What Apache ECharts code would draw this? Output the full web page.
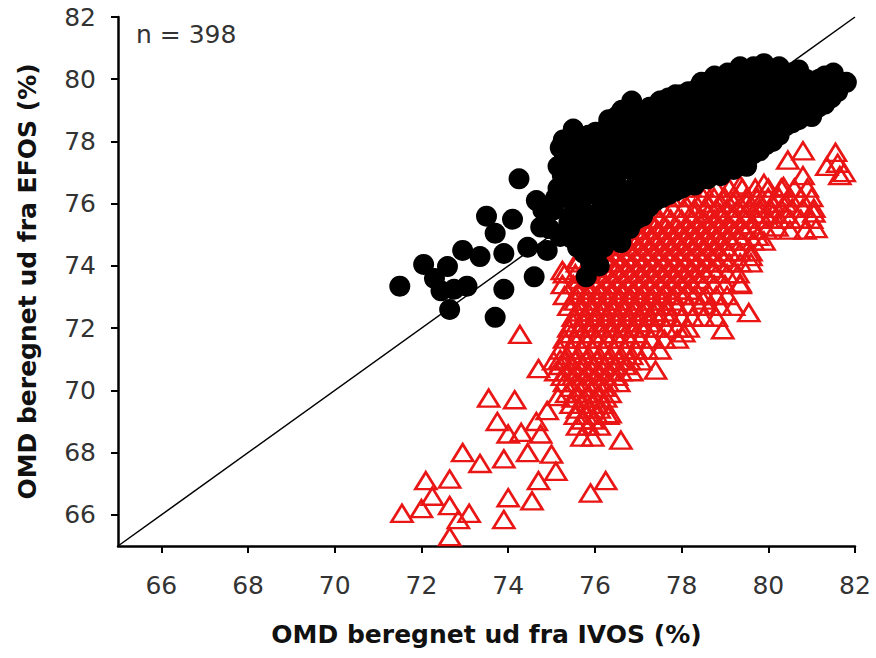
<!DOCTYPE html>
<html><head><meta charset="utf-8">
<script src="https://cdn.jsdelivr.net/npm/echarts@6.0.0/dist/echarts.min.js"></script>
<style>html,body{margin:0;padding:0;background:#fff}#c{width:876px;height:658px}</style>
</head><body><div id="c"></div>
<script>
const xTicks = [66, 68, 70, 72, 74, 76, 78, 80, 82];
const yTicks = [66, 68, 70, 72, 74, 76, 78, 80, 82];
const xTitle = 'OMD beregnet ud fra IVOS (%)';
const yTitle = 'OMD beregnet ud fra EFOS (%)';
const sampleLabel = 'n = 398';
const identityLine = [[65, 65], [82, 82]];

// black filled circles
const blackPoints = [
  [71.5,73.35],[72.05,74.05],[72.3,73.6],[72.45,73.2],[72.6,73.98],[72.95,74.5],[73.35,74.3],[72.75,73.25],[72.65,72.6],[73.05,73.35],
  [73.5,75.6],[73.7,75.05],[74.1,75.5],[73.9,74.4],[73.9,73.25],[73.7,72.35],[74.25,76.8],[74.65,76.1],[74.45,74.6],[74.6,73.65],
  [74.9,74.5],[74.75,75.25],[75.05,75.8],[75.2,74.95],[75.8,73.65],[76.1,74.0],[75.65,75.05],[76.05,74.75],[76.6,74.75],[75.35,76.65],[75.65,77.4],
  [74.95,75.2],[75.1,76.2],[74.8,75.8],[75.4,75.4],[75.15,76.5],[75.15,77.2],[75.2,77.8],
  [75.3,76.2],[75.25,76.9],[75.3,77.5],[75.27,78.05],
  [75.6,74.6],[75.55,75.3],[75.6,75.9],[75.62,76.5],[75.58,77.2],[75.6,77.8],[75.5,78.4],
  [75.9,74.1],[75.92,74.8],[75.88,75.6],[75.9,76.3],[75.95,76.9],[75.9,77.6],[75.85,78.2],
  [76.2,74.6],[76.22,75.3],[76.18,75.9],[76.2,76.6],[76.25,77.3],[76.2,77.9],[76.3,78.5],
  [76.5,75.4],[76.52,76.0],[76.48,76.8],[76.5,77.4],[76.55,78.1],[76.5,78.8],
  [76.8,75.2],[76.82,75.8],[76.78,76.4],[76.8,77.1],[76.85,77.7],[76.8,78.4],[76.85,79.3],
  [77.1,75.6],[77.12,76.2],[77.08,76.9],[77.1,77.5],[77.15,78.2],[77.1,78.8],
  [77.4,76.1],[77.42,76.7],[77.38,77.3],[77.4,77.9],[77.45,78.5],[77.5,79.3],
  [77.7,76.3],[77.72,76.9],[77.68,77.6],[77.7,78.2],[77.75,78.8],[77.7,79.4],
  [78.0,76.5],[78.02,77.1],[77.98,77.7],[78.0,78.3],[78.05,78.9],[78.0,79.5],
  [78.3,76.6],[78.32,77.3],[78.28,77.9],[78.3,78.6],[78.35,79.2],[78.4,79.75],
  [78.6,76.8],[78.62,77.4],[78.58,78.1],[78.6,78.7],[78.65,79.3],[78.6,79.9],
  [78.9,76.9],[78.92,77.6],[78.88,78.2],[78.9,78.8],[78.95,79.5],[78.9,80.0],
  [79.2,77.1],[79.22,77.8],[79.18,78.4],[79.2,79.0],[79.25,79.6],[79.2,80.2],
  [79.5,77.2],[79.52,77.9],[79.48,78.6],[79.5,79.2],[79.55,79.8],[79.35,80.4],
  [79.8,77.7],[79.82,78.3],[79.78,78.9],[79.8,79.5],[79.85,80.1],[79.9,80.5],
  [80.1,78.0],[80.12,78.6],[80.08,79.2],[80.1,79.8],[80.15,80.3],
  [80.4,78.5],[80.42,79.1],[80.38,79.7],[80.4,80.2],
  [80.7,78.7],[80.72,79.3],[80.68,79.8],[80.7,80.3],
  [81.0,78.8],[81.02,79.4],[80.98,79.9],
  [81.3,79.2],[81.32,79.7],[81.3,80.1],
  [81.5,80.2],[81.6,79.6],[81.8,79.9],
  [75.45,74.9],[75.45,75.6],[75.47,76.2],[75.43,76.8],[75.45,77.5],[75.42,78.1],
  [75.75,74.4],[75.75,75.0],[75.77,75.7],[75.73,76.2],[75.75,76.9],[75.76,77.5],[75.72,78.1],
  [76.05,74.4],[76.05,75.1],[76.07,75.7],[76.03,76.3],[76.05,77.0],[76.06,77.6],[76.02,78.3],
  [76.35,74.9],[76.35,75.6],[76.37,76.3],[76.33,76.9],[76.35,77.6],[76.36,78.3],[76.32,78.7],
  [76.65,75.1],[76.65,75.7],[76.67,76.4],[76.63,77.1],[76.65,77.8],[76.66,78.5],[76.62,79.0],
  [76.95,75.5],[76.95,76.1],[76.97,76.7],[76.93,77.4],[76.95,78.0],[76.96,78.7],[76.92,79.1],
  [77.25,75.9],[77.25,76.5],[77.27,77.2],[77.23,77.8],[77.25,78.5],[77.26,79.1],
  [77.55,76.2],[77.55,76.8],[77.57,77.5],[77.53,78.1],[77.55,78.7],[77.56,79.3],
  [77.85,76.4],[77.85,77.0],[77.87,77.6],[77.83,78.3],[77.85,78.9],[77.86,79.5],
  [78.15,76.6],[78.15,77.2],[78.17,77.8],[78.13,78.4],[78.15,79.0],[78.16,79.6],
  [78.45,76.9],[78.45,77.5],[78.47,78.2],[78.43,78.8],[78.45,79.4],[78.46,79.9],
  [78.75,77.0],[78.75,77.7],[78.77,78.3],[78.73,78.9],[78.75,79.6],[78.76,80.1],
  [79.05,77.3],[79.05,77.9],[79.07,78.5],[79.03,79.1],[79.05,79.7],[79.06,80.2],
  [79.35,77.5],[79.35,78.1],[79.37,78.7],[79.33,79.3],[79.35,79.9],
  [79.65,77.6],[79.65,78.2],[79.67,78.9],[79.63,79.5],[79.65,80.1],[79.66,80.4],
  [79.95,77.9],[79.95,78.5],[79.97,79.1],[79.93,79.7],[79.95,80.3],
  [80.25,78.2],[80.25,78.8],[80.27,79.4],[80.23,80.0],[80.25,80.4],
  [80.55,78.6],[80.55,79.2],[80.57,79.8],[80.53,80.2],
  [80.85,78.9],[80.85,79.5],[80.87,80.0],
  [81.15,79.1],[81.15,79.6],[81.17,80.0],
  [81.45,79.4],[81.45,79.9]
];

// red open triangles
const redPoints = [
  [78.2,76.5],[78.5,76.5],[78.8,76.5],[79.1,76.5],[79.4,76.5],[79.7,76.5],[80.0,76.5],[80.3,76.5],[80.6,76.5],[80.9,76.5],
  [77.75,76.2],[78.0,76.2],[78.25,76.2],[78.5,76.2],[78.75,76.2],[79.0,76.2],[79.25,76.2],[79.5,76.2],[79.75,76.2],[80.0,76.2],[80.25,76.2],[80.5,76.2],[80.75,76.2],[81.0,76.2],
  [77.3,75.85],[77.55,75.85],[77.8,75.85],[78.05,75.85],[78.3,75.85],[78.55,75.85],[78.8,75.85],[79.05,75.85],[79.3,75.85],[79.55,75.85],[79.8,75.85],[80.05,75.85],[80.3,75.85],[80.55,75.85],[80.8,75.85],[81.05,75.85],
  [77.0,75.5],[77.25,75.5],[77.5,75.5],[77.75,75.5],[78.0,75.5],[78.25,75.5],[78.5,75.5],[78.75,75.5],[79.0,75.5],[79.25,75.5],[79.5,75.5],[79.75,75.5],[80.0,75.5],[80.25,75.5],[80.5,75.5],[80.75,75.5],[81.0,75.5],
  [76.7,75.15],[76.95,75.15],[77.2,75.15],[77.45,75.15],[77.7,75.15],[77.95,75.15],[78.2,75.15],[78.45,75.15],[78.7,75.15],[78.95,75.15],[79.2,75.15],[79.45,75.15],[79.7,75.15],[79.95,75.15],[80.5,75.15],[80.85,75.15],
  [76.4,74.8],[76.65,74.8],[76.9,74.8],[77.15,74.8],[77.4,74.8],[77.65,74.8],[77.9,74.8],[78.15,74.8],[78.4,74.8],[78.65,74.8],[78.9,74.8],[79.15,74.8],[79.4,74.8],[79.65,74.8],[79.9,74.8],
  [76.1,74.45],[76.35,74.45],[76.6,74.45],[76.85,74.45],[77.1,74.45],[77.35,74.45],[77.6,74.45],[77.85,74.45],[78.1,74.45],[78.35,74.45],[78.6,74.45],[78.85,74.45],[79.1,74.45],[79.35,74.45],[79.6,74.45],
  [75.6,74.1],[75.85,74.1],[76.1,74.1],[76.35,74.1],[76.6,74.1],[76.85,74.1],[77.1,74.1],[77.35,74.1],[77.6,74.1],[77.85,74.1],[78.1,74.1],[78.35,74.1],[78.6,74.1],[78.85,74.1],[79.1,74.1],[79.35,74.1],[79.6,74.1],
  [75.3,73.75],[75.55,73.75],[75.8,73.75],[76.05,73.75],[76.3,73.75],[76.55,73.75],[76.8,73.75],[77.05,73.75],[77.3,73.75],[77.55,73.75],[77.8,73.75],[78.05,73.75],[78.3,73.75],[78.55,73.75],[78.8,73.75],[79.05,73.75],[79.3,73.75],
  [75.25,73.4],[75.5,73.4],[75.75,73.4],[76.0,73.4],[76.25,73.4],[76.5,73.4],[76.75,73.4],[77.0,73.4],[77.25,73.4],[77.5,73.4],[77.75,73.4],[78.0,73.4],[78.25,73.4],[78.5,73.4],[78.75,73.4],[79.0,73.4],[79.35,73.4],
  [75.3,73.05],[75.55,73.05],[75.8,73.05],[76.05,73.05],[76.3,73.05],[76.55,73.05],[76.8,73.05],[77.05,73.05],[77.3,73.05],[77.55,73.05],[77.8,73.05],[78.05,73.05],[78.3,73.05],[78.55,73.05],[78.8,73.05],[79.05,73.05],
  [75.4,72.7],[75.65,72.7],[75.9,72.7],[76.15,72.7],[76.4,72.7],[76.65,72.7],[76.9,72.7],[77.15,72.7],[77.4,72.7],[77.65,72.7],[77.9,72.7],[78.15,72.7],[78.4,72.7],[78.65,72.7],[78.9,72.7],[79.2,72.7],[79.55,72.5],
  [75.5,72.35],[75.75,72.35],[76.0,72.35],[76.25,72.35],[76.5,72.35],[76.75,72.35],[77.0,72.35],[77.25,72.35],[77.5,72.35],[77.75,72.35],[78.0,72.35],[78.25,72.35],[78.5,72.35],[78.8,72.35],
  [75.4,72.0],[75.65,72.0],[75.9,72.0],[76.15,72.0],[76.4,72.0],[76.65,72.0],[76.9,72.0],[77.15,72.0],[77.4,72.0],[77.65,72.0],[77.9,72.0],[78.15,72.0],
  [75.3,71.65],[75.55,71.65],[75.8,71.65],[76.05,71.65],[76.3,71.65],[76.55,71.65],[76.8,71.65],[77.05,71.65],[77.3,71.65],[77.6,71.65],[77.9,71.65],
  [75.2,71.3],[75.45,71.3],[75.7,71.3],[75.95,71.3],[76.2,71.3],[76.45,71.3],[76.7,71.3],[76.95,71.3],[77.2,71.3],[77.5,71.3],
  [75.05,70.95],[75.3,70.95],[75.55,70.95],[75.8,70.95],[76.05,70.95],[76.3,70.95],[76.55,70.95],[76.8,70.95],[77.05,70.95],
  [75.1,70.6],[75.35,70.6],[75.6,70.6],[75.85,70.6],[76.1,70.6],[76.35,70.6],[76.6,70.6],[76.85,70.6],
  [75.3,70.25],[75.55,70.25],[75.8,70.25],[76.05,70.25],[76.3,70.25],[76.55,70.25],
  [75.35,69.9],[75.6,69.9],[75.85,69.9],[76.1,69.9],[76.35,69.9],
  [75.45,69.55],[75.7,69.55],[75.95,69.55],[76.2,69.55],
  [75.55,69.2],[75.8,69.2],[76.05,69.2],[76.3,69.2],
  [75.6,68.85],[75.85,68.85],[76.1,68.85],
  [75.7,68.5],[75.95,68.5],
  // dense core, second layer
  [78.6,76.02],[78.9,76.02],[79.2,76.02],[79.5,76.02],[79.8,76.02],[80.1,76.02],[80.4,76.02],
  [78.3,75.67],[78.6,75.67],[78.9,75.67],[79.2,75.67],[79.5,75.67],[79.8,75.67],[80.1,75.67],[80.4,75.67],
  [77.1,75.32],[77.35,75.32],[77.6,75.32],[77.85,75.32],[78.1,75.32],[78.35,75.32],[78.6,75.32],[78.85,75.32],[79.1,75.32],[79.35,75.32],[79.6,75.32],
  [76.8,74.97],[77.05,74.97],[77.3,74.97],[77.55,74.97],[77.8,74.97],[78.05,74.97],[78.3,74.97],[78.55,74.97],[78.8,74.97],[79.05,74.97],[79.3,74.97],
  [76.5,74.62],[76.75,74.62],[77.0,74.62],[77.25,74.62],[77.5,74.62],[77.75,74.62],[78.0,74.62],[78.25,74.62],[78.5,74.62],[78.75,74.62],[79.0,74.62],
  [76.2,74.27],[76.45,74.27],[76.7,74.27],[76.95,74.27],[77.2,74.27],[77.45,74.27],[77.7,74.27],[77.95,74.27],[78.2,74.27],[78.45,74.27],[78.7,74.27],[78.95,74.27],
  [75.95,73.92],[76.2,73.92],[76.45,73.92],[76.7,73.92],[76.95,73.92],[77.2,73.92],[77.45,73.92],[77.7,73.92],[77.95,73.92],[78.2,73.92],[78.45,73.92],[78.7,73.92],
  [75.65,73.57],[75.9,73.57],[76.15,73.57],[76.4,73.57],[76.65,73.57],[76.9,73.57],[77.15,73.57],[77.4,73.57],[77.65,73.57],[77.9,73.57],[78.15,73.57],[78.4,73.57],
  [75.65,73.22],[75.9,73.22],[76.15,73.22],[76.4,73.22],[76.65,73.22],[76.9,73.22],[77.15,73.22],[77.4,73.22],[77.65,73.22],[77.9,73.22],[78.15,73.22],
  [75.55,72.87],[75.8,72.87],[76.05,72.87],[76.3,72.87],[76.55,72.87],[76.8,72.87],[77.05,72.87],[77.3,72.87],[77.55,72.87],[77.8,72.87],
  [75.6,72.52],[75.85,72.52],[76.1,72.52],[76.35,72.52],[76.6,72.52],[76.85,72.52],[77.1,72.52],[77.35,72.52],[77.6,72.52],
  [75.5,72.17],[75.75,72.17],[76.0,72.17],[76.25,72.17],[76.5,72.17],[76.75,72.17],[77.0,72.17],[77.25,72.17],
  [75.45,71.82],[75.7,71.82],[75.95,71.82],[76.2,71.82],[76.45,71.82],[76.7,71.82],[76.95,71.82],
  [75.35,71.12],[75.6,71.12],[75.85,71.12],[76.1,71.12],[76.35,71.12],[76.6,71.12],[76.85,71.12],
  [75.2,70.8],[75.45,70.8],[75.7,70.8],[75.95,70.8],[76.2,70.8],[76.45,70.8],[76.7,70.8],
  [75.25,70.45],[75.5,70.45],[75.75,70.45],[76.0,70.45],[76.25,70.45],[76.5,70.45],
  [75.45,70.1],[75.7,70.1],[75.95,70.1],[76.2,70.1],
  [75.5,69.75],[75.75,69.75],[76.0,69.75],[76.25,69.75],
  [75.6,69.4],[75.85,69.4],[76.1,69.4],
  [75.7,69.05],[75.95,69.05],
  // sparse outliers
  [74.27,71.8],[73.55,69.75],[74.15,69.7],[74.7,70.7],[73.75,69.0],[74.0,68.6],[74.3,68.65],[74.75,68.6],[74.65,69.0],
  [72.95,68.0],[73.35,67.65],[73.9,67.8],[74.45,68.0],[75.0,67.95],[75.1,67.4],[74.7,67.1],[72.1,67.1],[72.65,67.15],
  [72.25,66.6],[72.0,66.2],[71.55,66.05],[72.65,66.3],[73.1,66.05],[72.85,65.85],[72.65,65.3],[74.0,66.55],[74.55,66.45],
  [73.9,65.85],[75.9,66.7],[76.25,67.1],[76.6,68.4],[76.35,69.25],[77.4,70.65],[74.9,69.35],[75.15,69.8],[75.2,71.0],
  [75.25,73.85],[75.6,74.2],
  [79.9,78.05],[80.45,77.4],[80.8,77.7],[80.8,76.9],[81.55,77.65],[81.35,77.2],[81.65,76.9],[81.6,77.3],[81.75,77.0],
  [79.35,76.6],[79.9,76.65],[80.35,76.55],[81.1,75.2],[81.05,75.7],
  [79.35,73.45],[78.95,71.95],[78.05,71.85],[79.6,74.3],[79.75,74.95],[78.5,72.9],[80.2,75.25]
];

const FONT = 'DejaVu Sans';
const chart = echarts.init(document.getElementById('c'), null, {renderer: 'svg'});
function axisCommon(ticks) {
  return {
    type: 'value', min: 65, max: 82,
    axisLine: {show: true, onZero: false, lineStyle: {color: '#000', width: 2.5}},
    axisTick: {show: true, length: 7, lineStyle: {color: '#000', width: 2}, customValues: ticks},
    axisLabel: {customValues: ticks, color: '#333', fontSize: 25, fontFamily: FONT},
    splitLine: {show: false},
    nameLocation: 'middle',
    nameTextStyle: {fontFamily: FONT, fontWeight: 'bold', fontSize: 25, color: '#111'}
  };
}
const xAxis = axisCommon(xTicks);
xAxis.name = xTitle; xAxis.nameGap = 76; xAxis.axisLabel.margin = 27;
const yAxis = axisCommon(yTicks);
yAxis.name = yTitle; yAxis.nameGap = 78; yAxis.axisLabel.margin = 22;

chart.setOption({
  animation: false,
  backgroundColor: '#fff',
  title: {text: sampleLabel, left: 131, top: 17,
    textStyle: {fontFamily: FONT, fontSize: 25, fontWeight: 'normal', color: '#333'}},
  grid: {left: 118, right: 21, top: 17, bottom: 112, containLabel: false},
  xAxis: xAxis,
  yAxis: yAxis,
  series: [
    {type: 'line', data: identityLine, symbol: 'none', silent: true,
     lineStyle: {color: '#000', width: 1.5}, z: 1},
    {type: 'scatter', data: redPoints, symbol: 'triangle', symbolSize: [21, 17],
     itemStyle: {color: 'rgba(0,0,0,0)', borderColor: '#ea1515', borderWidth: 2.6, opacity: 1}, z: 2},
    {type: 'scatter', data: blackPoints, symbol: 'circle', symbolSize: 21,
     itemStyle: {color: '#000', opacity: 1}, z: 3}
  ]
});
</script></body></html>
